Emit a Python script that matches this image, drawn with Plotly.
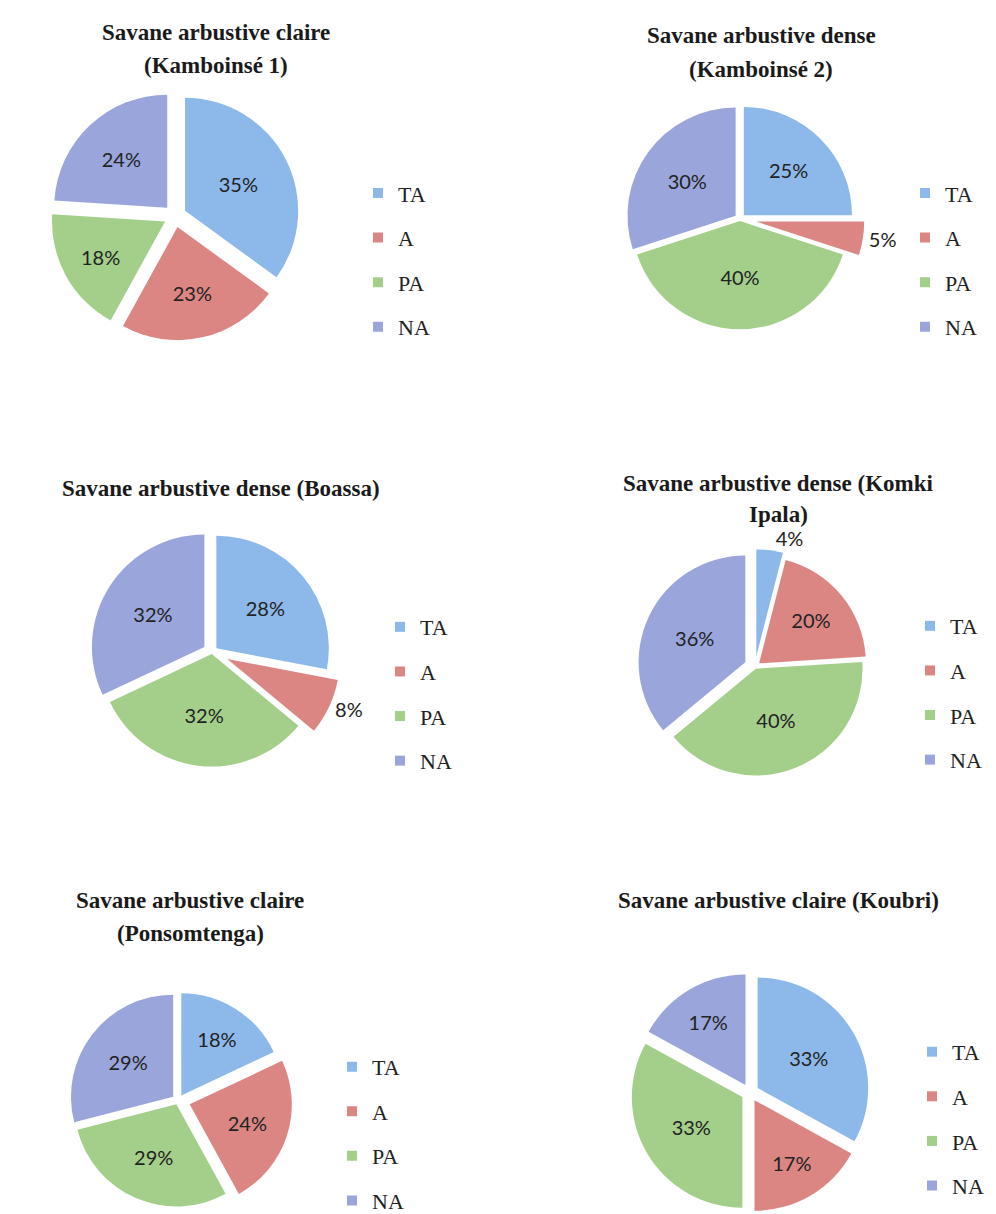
import plotly.graph_objects as go

W, H = 996, 1214

categories = ["TA", "A", "PA", "NA"]
colors = ["#8DB8EA", "#DC8684", "#A3CF8A", "#9AA5DC"]

titles = [
    ["Savane arbustive claire", "(Kamboinsé 1)"],
    ["Savane arbustive dense", "(Kamboinsé 2)"],
    ["Savane arbustive dense (Boassa)"],
    ["Savane arbustive dense (Komki", "Ipala)"],
    ["Savane arbustive claire", "(Ponsomtenga)"],
    ["Savane arbustive claire (Koubri)"],
]

kamboinse1 = [35, 23, 18, 24]
kamboinse2 = [25, 5, 40, 30]
boassa = [28, 8, 32, 32]
komki_ipala = [4, 20, 40, 36]
ponsomtenga = [18, 24, 29, 29]
koubri = [33, 17, 33, 17]

series = [kamboinse1, kamboinse2, boassa, komki_ipala, ponsomtenga, koubri]

# layout (pixel) settings per panel
pie_centers = [(167, 209), (732, 212), (204, 647), (747, 662), (170, 1098), (742, 1090)]
pie_sizes = [250, 250, 260, 236, 230, 240]
pulls = [
    [0.1, 0.1, 0.1, 0.1],
    [0.05, 0.15, 0.02, 0.05],
    [0.05, 0.15, 0.02, 0.08],
    [0.1, 0.05, 0.02, 0.1],
    [0.06, 0.12, 0.04, 0.06],
    [0.08, 0.08, 0.08, 0.08],
]
text_pos = [
    ["inside"] * 4,
    ["inside", "outside", "inside", "inside"],
    ["inside", "outside", "inside", "inside"],
    ["outside", "inside", "inside", "inside"],
    ["inside"] * 4,
    ["inside"] * 4,
]
title_pos = [(208, [25, 58]), (753, [28, 62]), (213, [483]), (770, [478, 509]),
             (182, [897, 930]), (770, [897])]
legend_pos = [(350, 165), (897, 165), (372, 601), (902, 600), (324, 1043), (904, 1028)]


def clamp(v):
    return max(0.0, min(1.0, v))


def dom(cx, cy, s):
    return dict(x=[clamp((cx - s / 2) / W), clamp((cx + s / 2) / W)],
                y=[clamp(1 - (cy + s / 2) / H), clamp(1 - (cy - s / 2) / H)])


fig = go.Figure()
layout_extra = {}
annotations = []
for i, vals in enumerate(series):
    lname = "legend" if i == 0 else f"legend{i+1}"
    cx, cy = pie_centers[i]
    fig.add_trace(go.Pie(
        labels=categories, values=vals, sort=False, direction="clockwise", rotation=0,
        domain=dom(cx, cy, pie_sizes[i]), pull=pulls[i],
        marker=dict(colors=colors, line=dict(width=0)),
        texttemplate="%{value}%", textposition=text_pos[i],
        insidetextorientation="horizontal",
        textfont=dict(family="Lato, Carlito, sans-serif", size=20, color="#222"),
        showlegend=False, hoverinfo="label+value",
    ))
    for j, cat in enumerate(categories):
        fig.add_trace(go.Scatter(
            x=[None], y=[None], mode="markers", name=cat,
            marker=dict(symbol="square", size=10, color=colors[j]),
            legend=lname, legendgroup=f"{i}-{cat}", showlegend=True,
        ))
    lx, ly = legend_pos[i]
    layout_extra[lname] = dict(
        x=lx / W, y=1 - ly / H, xanchor="left", yanchor="top",
        font=dict(family="Liberation Serif, Times New Roman, serif", size=22, color="#222"),
        tracegroupgap=13, bgcolor="rgba(0,0,0,0)", itemclick=False,
    )
    tx, tys = title_pos[i]
    for line, ty in zip(titles[i], tys):
        annotations.append(dict(
            text=f"<b>{line}</b>", x=tx / W, y=1 - ty / H, xref="paper", yref="paper",
            xanchor="center", yanchor="middle", showarrow=False,
            font=dict(family="Liberation Serif, Times New Roman, serif", size=23, color="#1a1a1a"),
        ))

fig.update_layout(
    width=W, height=H, margin=dict(l=0, r=0, t=0, b=0),
    paper_bgcolor="white", plot_bgcolor="white",
    xaxis=dict(visible=False), yaxis=dict(visible=False),
    annotations=annotations,
    **layout_extra,
)

fig.write_html("out.html")
